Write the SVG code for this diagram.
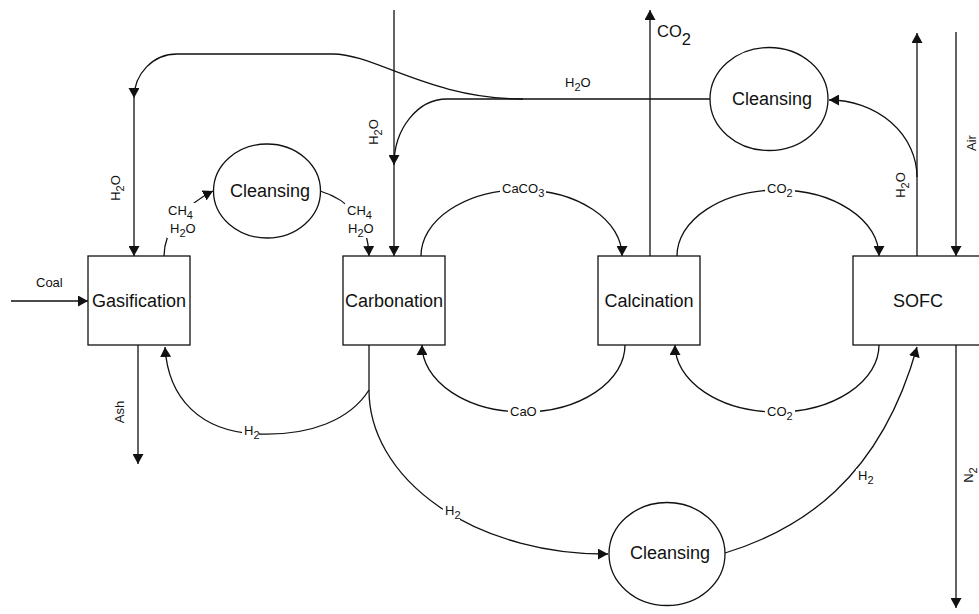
<svg xmlns="http://www.w3.org/2000/svg" width="979" height="614" viewBox="0 0 979 614">
  <style>
    text { font-family: "Liberation Sans", Arial, sans-serif; fill: #111; }
    .node { fill: #fff; stroke: #111; stroke-width: 1.3; }
    .name { font-size: 18px; text-anchor: middle; }
    .edge { fill: none; stroke: #111; stroke-width: 1.3; }
    .arrow { marker-end: url(#head); }
    .lbl { font-size: 13px; }
    .sub { font-size: 11px; }
    .bg { fill: #fff; stroke: none; }
  </style>
  <defs>
    <marker id="head" markerUnits="userSpaceOnUse" markerWidth="10" markerHeight="11" refX="10" refY="5.5" orient="auto">
      <path d="M0,0 L10,5.5 L0,11 z" fill="#111"/>
    </marker>
  </defs>

  <rect width="979" height="614" fill="#fff"/>

  <!-- process units -->
  <g id="gasification">
    <rect class="node" x="88" y="256" width="102" height="89"/>
    <text class="name" x="139" y="307">Gasification</text>
  </g>
  <g id="carbonation">
    <rect class="node" x="343" y="256" width="102" height="89"/>
    <text class="name" x="394" y="307">Carbonation</text>
  </g>
  <g id="calcination">
    <rect class="node" x="598" y="256" width="102" height="89"/>
    <text class="name" x="649" y="307">Calcination</text>
  </g>
  <g id="sofc">
    <rect class="node" x="853" y="256" width="140" height="89"/>
    <text class="name" x="918" y="307">SOFC</text>
  </g>
  <g id="cleansing-ch4">
    <ellipse class="node" cx="267" cy="191" rx="53.5" ry="47"/>
    <text class="name" x="270" y="197">Cleansing</text>
  </g>
  <g id="cleansing-h2o">
    <ellipse class="node" cx="769" cy="99" rx="59" ry="51.5"/>
    <text class="name" x="772" y="105">Cleansing</text>
  </g>
  <g id="cleansing-h2">
    <ellipse class="node" cx="667" cy="554" rx="58" ry="51.5"/>
    <text class="name" x="670" y="559">Cleansing</text>
  </g>

  <!-- streams -->
  <g id="connectors">
    <!-- feeds and products -->
    <path class="edge arrow" d="M11,301 L88,301"/>
    <path class="edge arrow" d="M138,345 L138,464"/>
    <path class="edge arrow" d="M394,10 L394,256"/>
    <path class="edge arrow" d="M650,256 L650,10"/>
    <path class="edge arrow" d="M917,256 L917,33"/>
    <path class="edge arrow" d="M956,32 L956,256"/>
    <path class="edge arrow" d="M956,345 L956,608"/>

    <!-- water recycle from the upper cleansing unit -->
    <path class="edge arrow" d="M710,99 L523,99 C430,99 375,54 333,54 L177,54 A43,44 0 0 0 134,98"/>
    <path class="edge arrow" d="M134,98 L134,256"/>
    <path class="edge arrow" d="M523,99 L447,99 A53,66 0 0 0 394,165"/>
    <path class="edge arrow" d="M917,177 A88,77 0 0 0 829,100"/>

    <!-- methane loop -->
    <path class="edge arrow" d="M164,256 C164,230 185,205 213,191"/>
    <path class="edge arrow" d="M320,191 C350,200 368,222 369,256"/>

    <!-- calcium looping -->
    <path class="edge arrow" d="M421,256 A100.5,66 0 0 1 622,256"/>
    <path class="edge arrow" d="M677,256 A101,66 0 0 1 879,256"/>
    <path class="edge arrow" d="M625,345 A101.5,67 0 0 1 422,345"/>
    <path class="edge arrow" d="M879,345 A102,67 0 0 1 675,345"/>

    <!-- hydrogen -->
    <path class="edge" d="M369,345 L369,390"/>
    <path class="edge arrow" d="M369,390 C350,420 310,436 258,434 C200,432 168,398 165,347"/>
    <path class="edge arrow" d="M369,390 A236,164 0 0 0 608,554"/>
    <path class="edge arrow" d="M725,553 C800,530 880,480 917,347"/>

    <!-- stream labels -->
    <text class="lbl" x="36" y="287">Coal</text>
    <text class="lbl" transform="translate(124,412) rotate(-90)" text-anchor="middle">Ash</text>
    <text class="lbl" transform="translate(120,188) rotate(-90)" text-anchor="middle">H<tspan class="sub" dy="4">2</tspan><tspan dy="-4">O</tspan></text>
    <text class="lbl" transform="translate(378,132) rotate(-90)" text-anchor="middle">H<tspan class="sub" dy="4">2</tspan><tspan dy="-4">O</tspan></text>
    <text class="lbl" transform="translate(905,185) rotate(-90)" text-anchor="middle">H<tspan class="sub" dy="4">2</tspan><tspan dy="-4">O</tspan></text>
    <text class="lbl" transform="translate(976,143) rotate(-90)" text-anchor="middle">Air</text>
    <text class="lbl" transform="translate(973,475) rotate(-90)" text-anchor="middle">N<tspan class="sub" dy="4">2</tspan></text>
    <text class="lbl" x="565" y="87">H<tspan class="sub" dy="4">2</tspan><tspan dy="-4">O</tspan></text>
    <text x="657" y="37" font-size="16.5">CO<tspan dy="8">2</tspan></text>

    <rect class="bg" x="167" y="203" width="30" height="35"/>
    <text class="lbl" x="168" y="215">CH<tspan class="sub" dy="4">4</tspan></text>
    <text class="lbl" x="170" y="233">H<tspan class="sub" dy="4">2</tspan><tspan dy="-4">O</tspan></text>

    <rect class="bg" x="345" y="202" width="31" height="36"/>
    <text class="lbl" x="347" y="215">CH<tspan class="sub" dy="4">4</tspan></text>
    <text class="lbl" x="348" y="233">H<tspan class="sub" dy="4">2</tspan><tspan dy="-4">O</tspan></text>

    <rect class="bg" x="500" y="182" width="46" height="20"/>
    <text class="lbl" x="502" y="193">CaCO<tspan class="sub" dy="4">3</tspan></text>

    <rect class="bg" x="765" y="182" width="30" height="20"/>
    <text class="lbl" x="767" y="193">CO<tspan class="sub" dy="4">2</tspan></text>

    <rect class="bg" x="508" y="404" width="32" height="16"/>
    <text class="lbl" x="510" y="416">CaO</text>

    <rect class="bg" x="765" y="404" width="30" height="20"/>
    <text class="lbl" x="767" y="416">CO<tspan class="sub" dy="4">2</tspan></text>

    <rect class="bg" x="242" y="424" width="17" height="16"/>
    <text class="lbl" x="244" y="435">H<tspan class="sub" dy="4">2</tspan></text>

    <rect class="bg" x="443" y="503" width="17" height="18"/>
    <text class="lbl" x="445" y="515">H<tspan class="sub" dy="4">2</tspan></text>

    <rect class="bg" x="856" y="469" width="17" height="17"/>
    <text class="lbl" x="858" y="480">H<tspan class="sub" dy="4">2</tspan></text>
  </g>
</svg>
